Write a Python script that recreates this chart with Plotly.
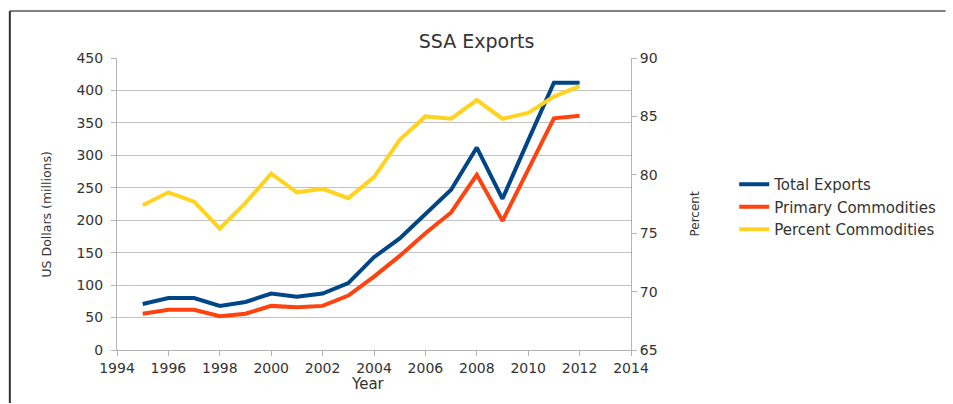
import plotly.graph_objects as go

years = list(range(1995, 2013))
total_exports = [71, 80, 80, 68, 74, 87, 82, 87, 103, 143, 172, 210, 247, 312, 233, 323, 412, 412]
primary_commodities = [56, 62, 62, 52, 56, 68, 66, 68, 84, 113, 145, 180, 212, 270, 199, 279, 357, 361]
percent_commodities = [77.4, 78.5, 77.7, 75.4, 77.6, 80.1, 78.5, 78.8, 78.0, 79.8, 83.0, 85.0, 84.8, 86.4, 84.8, 85.3, 86.7, 87.6]

fig = go.Figure()
fig.add_trace(go.Scatter(x=years, y=total_exports, name="Total Exports", mode="lines",
                         line=dict(color="#004586", width=4)))
fig.add_trace(go.Scatter(x=years, y=primary_commodities, name="Primary Commodities", mode="lines",
                         line=dict(color="#ff420e", width=4)))
fig.add_trace(go.Scatter(x=years, y=percent_commodities, name="Percent Commodities", mode="lines",
                         line=dict(color="#ffd320", width=4), yaxis="y2"))

W, H = 953, 404
L, R, T, B = 117, W - 635, 58, H - 350
pw = W - L - R
ph = H - T - B

def px(x):
    return (x - L) / pw

def py(y):
    return (H - B - y) / ph

FONT = "DejaVu Sans, Liberation Sans, Arial, sans-serif"
TXT = "#333333"
tickfont = dict(family=FONT, size=14, color=TXT)

fig.update_layout(
    width=W, height=H,
    margin=dict(l=L, r=R, t=T, b=B),
    paper_bgcolor="white", plot_bgcolor="white",
    font=dict(family=FONT, size=14, color=TXT),
    title=dict(text="SSA Exports", x=476.5 / W, xanchor="center", y=1 - 41 / H, yanchor="middle",
               font=dict(family=FONT, size=19, color=TXT)),
    xaxis=dict(range=[1994, 2014], dtick=2, tick0=1994, showgrid=False, showline=True,
               linecolor="#b3b3b3", linewidth=1, ticks="outside", ticklen=5, tickcolor="#b3b3b3",
               tickfont=tickfont, zeroline=False),
    yaxis=dict(range=[0, 450], dtick=50, showgrid=True, gridcolor="#c2c2c2", gridwidth=1,
               showline=True, linecolor="#b3b3b3", ticks="outside", ticklen=5, tickcolor="#b3b3b3",
               tickfont=tickfont, zeroline=False, ticklabelstandoff=5),
    yaxis2=dict(range=[65, 90], dtick=5, overlaying="y", side="right", showgrid=False,
                showline=True, linecolor="#b3b3b3", ticks="outside", ticklen=5, tickcolor="#b3b3b3",
                tickfont=tickfont, zeroline=False),
    legend=dict(x=px(739), y=py(168), xanchor="left", yanchor="top",
                font=dict(family=FONT, size=15, color=TXT), bgcolor="rgba(0,0,0,0)",
                tracegroupgap=0, itemwidth=30),
    showlegend=True,
    annotations=[
        dict(text="US Dollars (millions)", x=px(45), y=py(215), xref="paper", yref="paper",
             showarrow=False, textangle=-90, font=dict(family=FONT, size=12.5, color=TXT),
             xanchor="center", yanchor="middle"),
        dict(text="Percent", x=px(700), y=py(214), xref="paper", yref="paper",
             showarrow=False, textangle=-90, font=dict(family=FONT, size=12, color=TXT),
             xanchor="center", yanchor="middle"),
        dict(text="Year", x=px(370), y=py(384), xref="paper", yref="paper",
             showarrow=False, font=dict(family=FONT, size=15, color=TXT),
             xanchor="center", yanchor="middle"),
    ],
    shapes=[
        dict(type="line", xref="paper", yref="paper", x0=px(9), x1=px(W - 1), y0=py(11), y1=py(11),
             line=dict(color="#808080", width=2)),
        dict(type="line", xref="paper", yref="paper", x0=px(9), x1=px(9), y0=py(11), y1=py(H - 1),
             line=dict(color="#333333", width=2)),
    ],
)

fig.write_html("out.html", config={"displayModeBar": False},
               post_script="document.body.style.margin='0';"
                           "document.body.style.overflow='hidden';"
                           "document.documentElement.style.overflow='hidden';")
